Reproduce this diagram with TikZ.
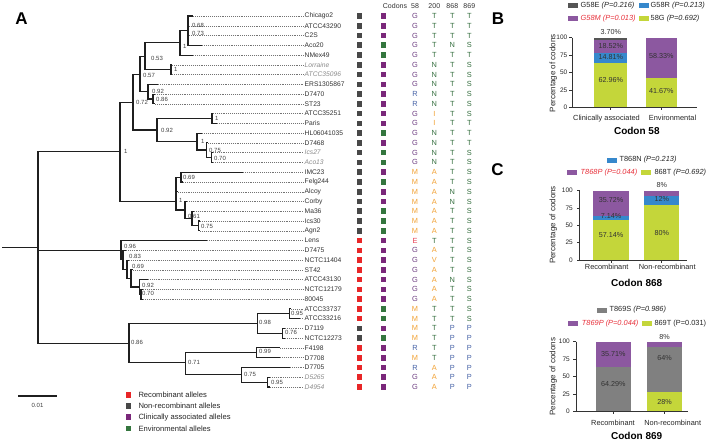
\documentclass[tikz,border=0pt]{standalone}
\usepackage{fontspec}
\setmainfont{Liberation Sans}
\definecolor{rec}{RGB}{232,38,40}
\definecolor{non}{RGB}{72,72,72}
\definecolor{cli}{RGB}{122,40,122}
\definecolor{env}{RGB}{52,118,62}
\definecolor{colG}{RGB}{110,62,130}
\definecolor{colT}{RGB}{52,110,62}
\colorlet{colN}{colT}\colorlet{colS}{colT}
\definecolor{colR}{RGB}{72,100,168}\colorlet{colP}{colR}
\definecolor{colM}{RGB}{242,162,52}\colorlet{colA}{colM}\colorlet{colI}{colM}\colorlet{colV}{colM}
\definecolor{colE}{RGB}{232,64,84}
\definecolor{bpur}{RGB}{140,88,160}
\definecolor{byg}{RGB}{196,214,58}
\definecolor{bblu}{RGB}{54,136,204}
\definecolor{bdk}{RGB}{85,85,85}
\definecolor{bgr}{RGB}{128,128,128}
\definecolor{pred}{RGB}{232,50,60}
\newcommand\itx[1]{{\itshape\color{black!45}#1}}
\tikzset{
  br/.style={line width=1.1pt, black!88},
  dotl/.style={line width=0.45pt, black!55, dash pattern=on 0.6pt off 1.3pt},
  taxon/.style={anchor=west, inner sep=1pt, text=black!80, font=\fontsize{6.7}{7}\selectfont},
  supp/.style={anchor=west, inner sep=0pt, text=black!75, font=\fontsize{6}{6}\selectfont},
  sq/.style={minimum size=5.6pt, inner sep=0pt},
  cod/.style={inner sep=0pt, font=\fontsize{7.4}{7}\selectfont},
  hdr/.style={inner sep=0pt, text=black!80, font=\fontsize{7}{7}\selectfont},
  leg/.style={anchor=west, inner sep=0pt, text=black!85, font=\fontsize{7.6}{8}\selectfont},
  plet/.style={inner sep=0pt, font=\bfseries\fontsize{17}{17}\selectfont},
  ax/.style={line width=0.6pt, black!80},
  tkl/.style={anchor=east, inner sep=0pt, text=black!85, font=\fontsize{6.5}{7}\selectfont},
  cat/.style={inner sep=0pt, text=black!85, font=\fontsize{7.4}{8}\selectfont},
  ttl/.style={inner sep=0pt, font=\bfseries\fontsize{10}{10}\selectfont},
  val/.style={inner sep=0pt, text=black!80, font=\fontsize{7.2}{8}\selectfont},
  ylab/.style={inner sep=0pt, rotate=90, text=black!85, font=\fontsize{8}{8}\selectfont},
  pl/.style={anchor=west, inner sep=0pt, text=black!85, font=\fontsize{7.4}{8}\selectfont},
}
\begin{document}
\begin{tikzpicture}[x=1pt,y=-1pt]
\useasboundingbox (0,0) rectangle (714,441);
\fill[white] (0,0) rectangle (714,441);

% ---------- taxa ----------
\foreach \i/\nm/\tx in {0/Chicago2/193, 1/ATCC43290/189, 2/C2S/189, 3/Aco20/202, 4/NMex49/193,
  5/\itx{Lorraine}/172, 6/\itx{ATCC35096}/172, 7/ERS1305867/158, 8/D7470/155, 9/ST23/155,
  10/ATCC35251/213, 11/Paris/217, 12/HL06041035/202, 13/D7468/208, 14/\itx{Ics27}/213,
  15/\itx{Aco13}/213, 16/IMC23/243, 17/Felg244/183, 18/Alcoy/178, 19/Corby/187, 20/Ma36/194,
  21/Ics30/200, 22/Agn2/200, 23/Lens/207, 24/D7475/126, 25/NCTC11404/129, 26/ST42/133,
  27/ATCC43130/148, 28/NCTC12179/143, 29/80045/143, 30/ATCC33737/291, 31/ATCC33216/300,
  32/D7119/285, 33/NCTC12273/285, 34/F4198/280, 35/D7708/280, 36/D7705/290,
  37/\itx{D5265}/270, 38/\itx{D4954}/270} {
  \pgfmathsetmacro\yy{16+9.763*\i}
  \coordinate (t\i) at (\tx,\yy);
  \node[taxon] (L\i) at (303.5,\yy) {\nm};
  \draw[dotl] (t\i) -- (L\i.west);
}

% ---------- tree nodes ----------
\coordinate (Rs) at (2,247.4);
\coordinate (R) at (38,247.4);
\coordinate (nA) at (120,151.7);
\coordinate (nA1) at (133,102.2);
\coordinate (nA1a) at (140,74.3);
\coordinate (n053) at (145,56.9);
\coordinate (n1a) at (180,42.9);
\coordinate (nG1) at (188,30.7);
\coordinate (nLor) at (171,69.7);
\coordinate (n092b) at (148,91.6);
\coordinate (n086) at (153,99);
\coordinate (nA1b) at (157,130);
\coordinate (nPar) at (212,118.5);
\coordinate (n1b) at (197,141.5);
\coordinate (n075a) at (206.7,150);
\coordinate (n070a) at (211.7,157.6);
\coordinate (nA2) at (176,201.2);
\coordinate (nIMC) at (181,177.1);
\coordinate (nC) at (185,210);
\coordinate (n061) at (192,218.6);
\coordinate (n075b) at (198.3,225.9);
\coordinate (nB) at (121,250.1);
\coordinate (n083) at (123,259.7);
\coordinate (n069) at (127,269.2);
\coordinate (nST) at (131,278.4);
\coordinate (n092c) at (139.3,287);
\coordinate (n070b) at (141,294.3);
\coordinate (nC86) at (129,343.1);
\coordinate (n098) at (257.3,323.3);
\coordinate (n095a) at (289.3,313.3);
\coordinate (n076) at (282.7,333.3);
\coordinate (n071) at (185.7,362.9);
\coordinate (n099) at (256.7,352.8);
\coordinate (n075c) at (241.7,374.7);
\coordinate (n095b) at (267.3,382.1);

\draw[br] (Rs) -- (R);
\foreach \p/\c in {R/nA, R/nB, R/nC86, nA/nA1, nA/nA2, nA1/nA1a, nA1/nA1b,
  nA1a/n053, nA1a/n092b, n053/n1a, n053/nLor, n1a/nG1, n1a/t4,
  nG1/t0, nG1/t1, nG1/t2, nG1/t3, nLor/t5, nLor/t6, n092b/t7, n092b/n086,
  n086/t8, n086/t9, nA1b/nPar, nA1b/n1b, nPar/t10, nPar/t11, n1b/t12, n1b/n075a,
  n075a/t13, n075a/n070a, n070a/t14, n070a/t15,
  nA2/nIMC, nA2/t18, nA2/nC, nIMC/t16, nIMC/t17, nC/t19, nC/n061, n061/t20, n061/n075b,
  n075b/t21, n075b/t22,
  nB/t23, nB/n083, n083/t24, n083/n069, n069/t25, n069/nST, nST/t26, nST/n092c,
  n092c/t27, n092c/n070b, n070b/t28, n070b/t29,
  nC86/n098, nC86/n071, n098/n095a, n098/n076, n095a/t30, n095a/t31, n076/t32, n076/t33,
  n071/n099, n071/n075c, n099/t34, n099/t35, n075c/t36, n075c/n095b, n095b/t37, n095b/t38}
  {\draw[br] (\p) |- (\c);}

% ---------- support values ----------
\node[supp] (s1) at (192,25) {0.68};
\node[supp] (s2) at (192,33.5) {0.73};
\node[supp] (s3) at (183,46) {1};
\node[supp] (s4) at (151,58.5) {0.53};
\node[supp] (s5) at (174,69.5) {1};
\node[supp] (s6) at (143,75) {0.57};
\node[supp] (s7) at (152,91) {0.92};
\node[supp] (s8) at (156,99) {0.86};
\node[supp] (s9) at (136,102.5) {0.72};
\node[supp] (s10) at (215,118.5) {1};
\node[supp] (s11) at (161,130) {0.92};
\node[supp] (s12) at (201,141.5) {1};
\node[supp] (s13) at (209,150) {0.75};
\node[supp] (s14) at (214,158) {0.70};
\node[supp] (s15) at (124,151.7) {1};
\node[supp] (s16) at (183,177.5) {0.69};
\node[supp] (s17) at (179,200) {1};
\node[supp] (s18) at (188,216) {0.61};
\node[supp] (s19) at (201,226) {0.75};
\node[supp] (s20) at (124,246.7) {0.96};
\node[supp] (s21) at (129,256.7) {0.83};
\node[supp] (s22) at (132,266.7) {0.69};
\node[supp] (s23) at (142,285.7) {0.92};
\node[supp] (s24) at (142,293.3) {0.70};
\node[supp] (s25) at (131,342.3) {0.86};
\node[supp] (s26) at (259,322.7) {0.98};
\node[supp] (s27) at (291,313.3) {0.95};
\node[supp] (s28) at (285,332.7) {0.76};
\node[supp] (s29) at (259,351) {0.99};
\node[supp] (s30) at (188,362.7) {0.71};
\node[supp] (s31) at (244,374) {0.75};
\node[supp] (s32) at (271,382.7) {0.95};

% scale bar
\coordinate (sb1) at (18.3,396);
\coordinate (sb2) at (56.7,396);
\draw[br] (sb1) -- (sb2);
\node[supp, anchor=center] (sbl) at (37.5,405) {0.01};

% ---------- legend A ----------
\node[sq, fill=rec] (lg1) at (128.3,395) {};
\node[sq, fill=non] (lg2) at (128.3,406) {};
\node[sq, fill=cli] (lg3) at (128.3,417.2) {};
\node[sq, fill=env] (lg4) at (128.3,428.3) {};
\node[leg] (lt1) at (138.3,395) {Recombinant alleles};
\node[leg] (lt2) at (138.3,406) {Non-recombinant alleles};
\node[leg] (lt3) at (138.3,417.2) {Clinically associated alleles};
\node[leg] (lt4) at (138.3,428.3) {Environmental alleles};

% ---------- codon table ----------
\node[hdr] (h0) at (395,6) {Codons};
\node[hdr] (h1) at (415,6) {58};
\node[hdr] (h2) at (434.3,6) {200};
\node[hdr] (h3) at (452.3,6) {868};
\node[hdr] (h4) at (469.3,6) {869};
\foreach \i/\qa/\qb/\ka/\kb/\kc/\kd in {0/non/cli/G/T/T/T, 1/non/cli/G/T/T/T, 2/non/cli/G/T/T/T,
  3/non/env/G/T/N/S, 4/non/env/G/T/T/T, 5/non/cli/G/N/T/S, 6/non/cli/G/N/T/S, 7/non/cli/G/N/T/S,
  8/non/cli/R/N/T/S, 9/non/cli/R/N/T/S, 10/non/cli/G/I/T/S, 11/non/cli/G/I/T/T, 12/non/env/G/N/T/T,
  13/non/cli/G/N/T/T, 14/non/env/G/N/T/S, 15/non/env/G/N/T/S, 16/non/cli/M/A/T/S, 17/non/env/M/A/T/S,
  18/non/cli/M/A/N/S, 19/non/cli/M/A/N/S, 20/non/env/M/A/T/S, 21/non/env/M/A/T/S, 22/non/env/M/A/T/S,
  23/rec/cli/E/T/T/S, 24/rec/cli/G/A/T/S, 25/rec/cli/G/V/T/S, 26/rec/cli/G/A/T/S, 27/rec/cli/G/A/N/S,
  28/rec/cli/G/A/T/S, 29/rec/cli/G/A/T/S, 30/rec/env/M/T/T/S, 31/rec/env/M/T/T/S, 32/non/cli/M/T/P/P,
  33/non/env/M/T/P/P, 34/rec/cli/R/T/P/P, 35/rec/cli/M/T/P/P, 36/rec/cli/R/A/P/P, 37/rec/cli/G/A/P/P,
  38/rec/cli/G/A/P/P} {
  \pgfmathsetmacro\yy{16+9.763*\i}
  \node[sq, fill=\qa] (qa\i) at (359.5,\yy) {};
  \node[sq, fill=\qb] (qb\i) at (383.3,\yy) {};
  \node[cod, text=col\ka] (ka\i) at (415,\yy) {\ka};
  \node[cod, text=col\kb] (kb\i) at (434.3,\yy) {\kb};
  \node[cod, text=col\kc] (kc\i) at (452.3,\yy) {\kc};
  \node[cod, text=col\kd] (kd\i) at (469.3,\yy) {\kd};
}

% ---------- panel letters ----------
\node[plet] (pA) at (21.5,19) {A};
\node[plet] (pB) at (498,19) {B};
\node[plet] (pC) at (497.5,170) {C};

% ---------- panel B (codon 58) ----------
\fill[bdk] (568,3.2) rectangle (578,8.2);
\node[pl] (b1) at (580.5,5.7) {G58E \textit{(P=0.216)}};
\fill[bblu] (639,3.2) rectangle (649,8.2);
\node[pl] (b2) at (650.5,5.7) {G58R \textit{(P=0.213)}};
\fill[bpur] (568,16.5) rectangle (578,21.5);
\node[pl, text=pred] (b3) at (580.5,19) {\textit{G58M (P=0.013)}};
\fill[byg] (639,16.5) rectangle (649,21.5);
\node[pl] (b4) at (650.5,19) {58G \textit{(P=0.692)}};

\fill[byg] (594,107.3) rectangle (627.3,63.5);
\fill[bblu] (594,63.5) rectangle (627.3,53.2);
\fill[bpur] (594,53.2) rectangle (627.3,40.3);
\fill[bdk] (594,40.3) rectangle (627.3,37.7);
\fill[byg] (646,107.3) rectangle (676.7,78.3);
\fill[bpur] (646,78.3) rectangle (676.7,37.7);
\draw[ax] (572,37.7) -- (572,107.3) -- (697,107.3);
\foreach \v/\yv in {0/107.3,25/89.9,50/72.5,75/55.1,100/37.7} {
  \draw[ax] (572,\yv) -- (569,\yv);
  \node[tkl] (bt\v) at (567.5,\yv) {\v};
}
\draw[ax] (610.7,107.3) -- (610.7,110);
\draw[ax] (661.3,107.3) -- (661.3,110);
\node[val] (bv1) at (610.7,32.3) {3.70\%};
\node[val] (bv2) at (610.7,46.5) {18.52\%};
\node[val] (bv3) at (610.7,57.3) {14.81\%};
\node[val] (bv4) at (610.7,80) {62.96\%};
\node[val] (bv5) at (661.3,56) {58.33\%};
\node[val] (bv6) at (661.3,91) {41.67\%};
\node[cat] (bc1) at (606.5,118.3) {Clinically associated};
\node[cat] (bc2) at (672.5,118.3) {Environmental};
\node[ttl] (bT) at (636.8,131) {Codon 58};
\node[ylab] (bY) at (553.3,73.3) {Percentage of codons};

% ---------- panel C (codon 868) ----------
\fill[bblu] (607,157.5) rectangle (617,162.5);
\node[pl] (c1) at (619.3,160) {T868N \textit{(P=0.213)}};
\fill[bpur] (566.7,170.2) rectangle (576.7,175.2);
\node[pl, text=pred] (c2) at (580.5,172.7) {\textit{T868P (P=0.044)}};
\fill[byg] (640.7,170.2) rectangle (650.7,175.2);
\node[pl] (c3) at (654.3,172.7) {868T \textit{(P=0.692)}};

\fill[byg] (592.7,260) rectangle (629.3,220.4);
\fill[bblu] (592.7,220.4) rectangle (629.3,215.5);
\fill[bpur] (592.7,215.5) rectangle (629.3,190.7);
\fill[byg] (644,260) rectangle (679.3,204.6);
\fill[bblu] (644,204.6) rectangle (679.3,196.2);
\fill[bpur] (644,196.2) rectangle (679.3,190.7);
\draw[ax] (579.5,190.7) -- (579.5,260) -- (686.7,260);
\foreach \v/\yv in {0/260,25/242.7,50/225.4,75/208,100/190.7} {
  \draw[ax] (579.5,\yv) -- (576.5,\yv);
  \node[tkl] (ct\v) at (573,\yv) {\v};
}
\draw[ax] (611,260) -- (611,262.7);
\draw[ax] (661.7,260) -- (661.7,262.7);
\node[val] (cv1) at (611,200) {35.72\%};
\node[val] (cv2) at (611,216.5) {7.14\%};
\node[val] (cv3) at (611,235) {57.14\%};
\node[val] (cv4) at (661.7,185) {8\%};
\node[val] (cv5) at (661.7,199) {12\%};
\node[val] (cv6) at (661.7,233) {80\%};
\node[cat] (cc1) at (606.7,267.3) {Recombinant};
\node[cat] (cc2) at (667.2,267.3) {Non-recombinant};
\node[ttl] (cT) at (636.7,283.3) {Codon 868};
\node[ylab] (cY) at (553.3,225) {Percentage of codons};

% ---------- panel C (codon 869) ----------
\fill[bgr] (597,307.5) rectangle (607,312.5);
\node[pl] (d1) at (609.3,310) {T869S \textit{(P=0.986)}};
\fill[bpur] (568,320.8) rectangle (578,325.8);
\node[pl, text=pred] (d2) at (581.7,323.3) {\textit{T869P (P=0.044)}};
\fill[byg] (641.7,320.8) rectangle (651.7,325.8);
\node[pl] (d3) at (654.3,323.3) {869T (P=0.031)};

\fill[bgr] (595.7,411.7) rectangle (631,366.7);
\fill[bpur] (595.7,366.7) rectangle (631,341.7);
\fill[byg] (646.7,411.7) rectangle (682.3,392.1);
\fill[bgr] (646.7,392.1) rectangle (682.3,347.3);
\fill[bpur] (646.7,347.3) rectangle (682.3,341.7);
\draw[ax] (576,341.7) -- (576,411.7) -- (688.3,411.7);
\foreach \v/\yv in {0/411.7,25/394.2,50/376.7,75/359.2,100/341.7} {
  \draw[ax] (576,\yv) -- (573,\yv);
  \node[tkl] (dt\v) at (570,\yv) {\v};
}
\draw[ax] (613.3,411.7) -- (613.3,414.4);
\draw[ax] (664.5,411.7) -- (664.5,414.4);
\node[val] (dv1) at (613.3,354) {35.71\%};
\node[val] (dv2) at (613.3,384) {64.29\%};
\node[val] (dv3) at (664.5,336.7) {8\%};
\node[val] (dv4) at (664.5,358.3) {64\%};
\node[val] (dv5) at (664.5,401.7) {28\%};
\node[cat] (dc1) at (613,423.3) {Recombinant};
\node[cat] (dc2) at (672.7,423.3) {Non-recombinant};
\node[ttl] (dT) at (636.7,435.7) {Codon 869};
\node[ylab] (dY) at (553.3,376.7) {Percentage of codons};
\end{tikzpicture}
\end{document}
